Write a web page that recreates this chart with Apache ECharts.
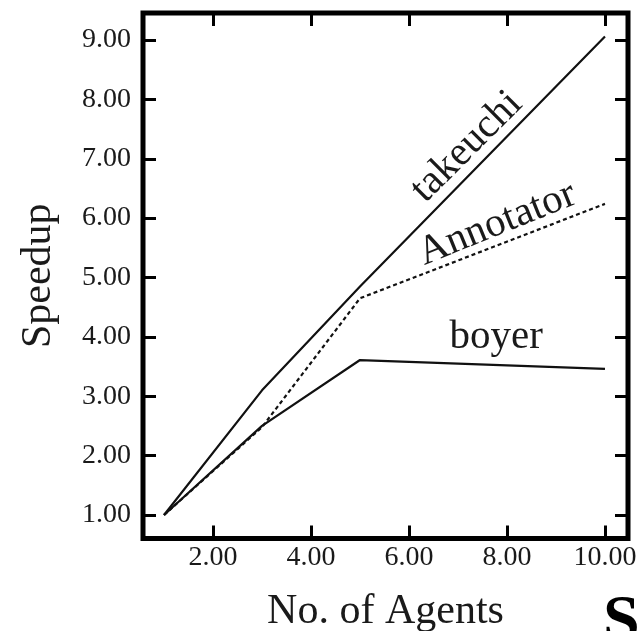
<!DOCTYPE html>
<html><head><meta charset="utf-8">
<script src="https://cdn.jsdelivr.net/npm/echarts@6/dist/echarts.min.js"></script>
<style>html,body{margin:0;padding:0;background:#fff}#c{width:640px;height:631px}</style>
</head><body><div id="c"></div>
<script>
const agents = [1, 3, 5, 10];
const takeuchi = [1.00, 3.10, 4.85, 9.06];
const annotator = [1.00, 2.48, 4.65, 6.24];
const boyer = [1.00, 2.50, 3.61, 3.46];
const xTicks = [2, 4, 6, 8, 10];
const yTicks = [1, 2, 3, 4, 5, 6, 7, 8, 9];
const seriesLabels = [
  { text: 'takeuchi', at: [7.18, 7.2], rot: 45 },
  { text: 'Annotator', at: [7.8, 5.9], rot: 22 },
  { text: 'boyer', at: [7.78, 4.0], rot: 0 }
];
const FONT = 'Liberation Serif';
const xMin = 0.571, xMax = 10.47, yMin = 0.604, yMax = 9.455;

const chart = echarts.init(document.getElementById('c'), null, { renderer: 'canvas' });
const pair = (ys) => agents.map((x, i) => [x, ys[i]]);
const tickStyle = { show: true, inside: true, length: 13, lineStyle: { color: '#000', width: 3 } };
const labelStyle = { fontFamily: FONT, fontSize: 28, color: '#1a1a1a' };

function xAxis(pos, showLabel) {
  return {
    type: 'value', position: pos, min: xMin, max: xMax,
    axisLine: { show: false }, splitLine: { show: false },
    axisTick: Object.assign({ customValues: xTicks }, tickStyle),
    axisLabel: Object.assign({ show: showLabel, customValues: xTicks, margin: 5, formatter: v => v.toFixed(2) }, labelStyle),
    name: showLabel ? 'No. of Agents' : '', nameLocation: 'middle', nameGap: 52,
    nameTextStyle: { fontFamily: FONT, fontSize: 42, color: '#1a1a1a' }
  };
}
function yAxis(pos, showLabel) {
  return {
    type: 'value', position: pos, min: yMin, max: yMax,
    axisLine: { show: false }, splitLine: { show: false },
    axisTick: Object.assign({ customValues: yTicks }, tickStyle),
    axisLabel: Object.assign({ show: showLabel, customValues: yTicks, margin: 12, formatter: v => v.toFixed(2) }, labelStyle),
    name: showLabel ? 'Speedup' : '', nameLocation: 'middle', nameGap: 83, nameRotate: 90,
    nameTextStyle: { fontFamily: FONT, fontSize: 42, color: '#1a1a1a' }
  };
}
const lineSeries = (name, ys, dashed) => ({
  name, type: 'line', data: pair(ys), symbol: 'none', silent: true, animation: false,
  xAxisIndex: 0, yAxisIndex: 0,
  lineStyle: { color: '#111', width: 2.2, type: dashed ? [4, 3] : 'solid' }
});

chart.setOption({
  animation: false,
  backgroundColor: '#fff',
  grid: { left: 143, right: 12, top: 13, bottom: 92.5, outerBoundsMode: 'none', containLabel: false, show: true, borderColor: '#000', borderWidth: 5, backgroundColor: 'transparent' },
  xAxis: [xAxis('bottom', true), xAxis('top', false)],
  yAxis: [yAxis('left', true), yAxis('right', false)],
  series: [lineSeries('Annotator', annotator, true), lineSeries('takeuchi', takeuchi, false), lineSeries('boyer', boyer, false)]
});

const g = seriesLabels.map(l => {
  const p = chart.convertToPixel({ gridIndex: 0 }, l.at);
  return {
    type: 'text', x: p[0], y: p[1], rotation: l.rot * Math.PI / 180,
    style: { text: l.text, x: 0, y: 0, align: 'center', verticalAlign: 'middle', font: '41px "' + FONT + '"', fill: '#1a1a1a' }
  };
});
g.push({ type: 'text', x: 603, y: 590, style: { text: 'S', align: 'left', verticalAlign: 'top', font: 'bold 66px "' + FONT + '"', fill: '#000' } });
chart.setOption({ graphic: g });
</script></body></html>
